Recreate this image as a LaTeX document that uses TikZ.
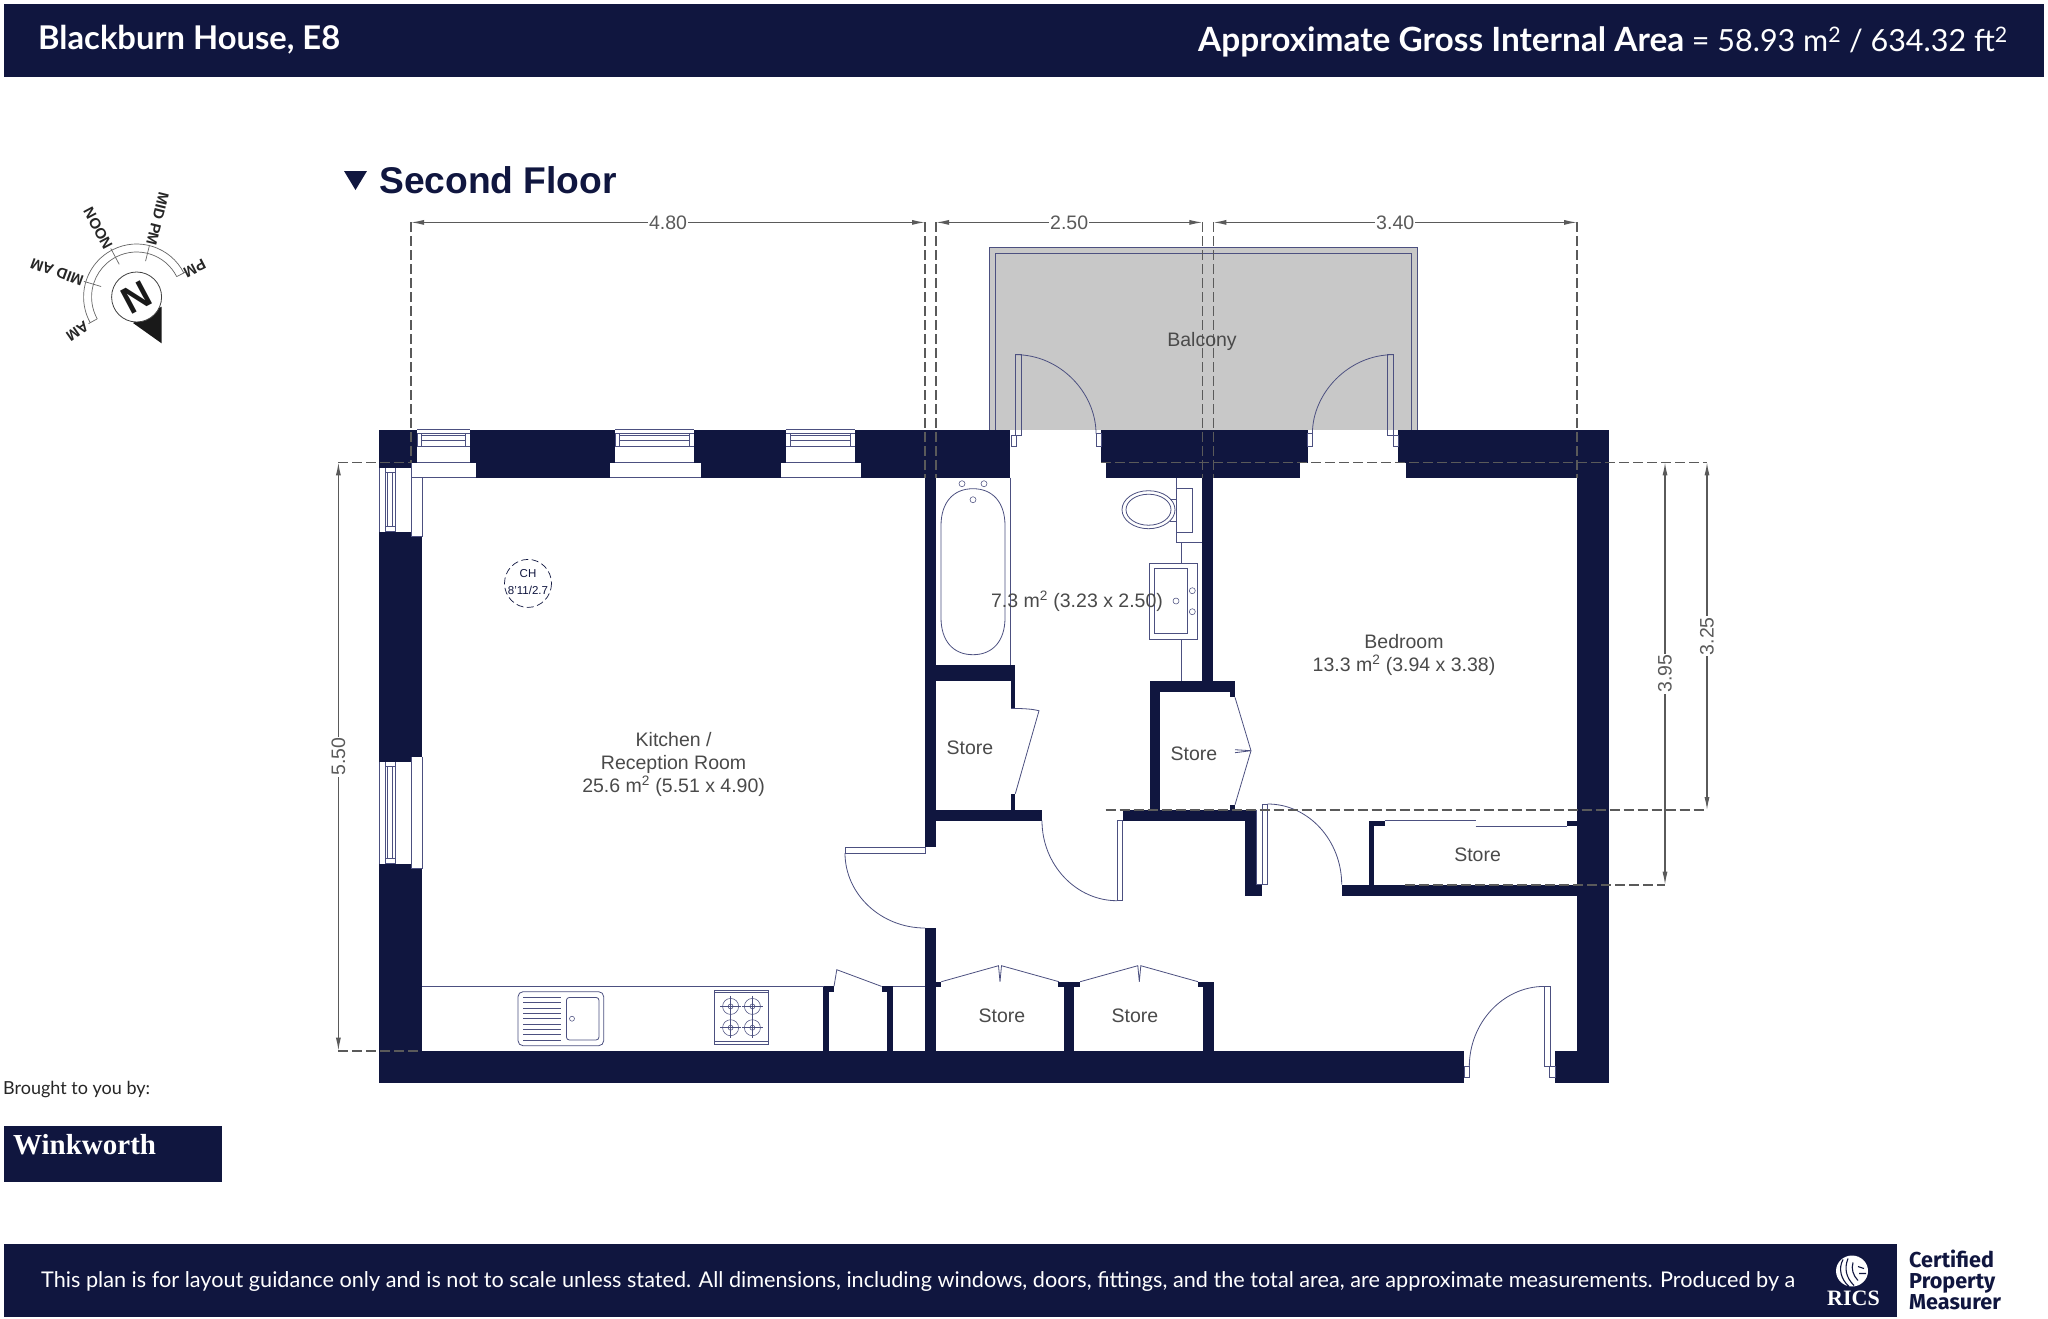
\documentclass[tikz,border=0pt]{standalone}
\usepackage{fontspec}
\setmainfont{Liberation Sans}
\newfontfamily\bandfont{Lato}
\newfontfamily\certfont{Fira Sans}
\newfontfamily\logofont{Liberation Serif}
\usetikzlibrary{arrows.meta,calc}
\definecolor{navyband}{HTML}{10163F}
\definecolor{fixline}{HTML}{4C5080}
\definecolor{dimgrey}{HTML}{5A5A5A}
\definecolor{labelgrey}{HTML}{4A4A4A}
\definecolor{balconygrey}{HTML}{C8C8C8}
\newcommand{\px}[1]{\fontsize{#1}{#1}\selectfont}
\tikzset{
  wall/.style={fill=navyband},
  fixture/.style={draw=fixline,line width=0.8pt},
  thinfix/.style={draw=fixline,line width=0.55pt},
  dimline/.style={draw=dimgrey,line width=1.1pt,{Latex[length=13pt,width=5pt]}-{Latex[length=13pt,width=5pt]}},
  dimdash/.style={draw=dimgrey,line width=1.6pt,dash pattern=on 10pt off 4pt},
  dimlabel/.style={text=dimgrey,font=\px{19.5},fill=white,inner xsep=1pt,inner ysep=0pt},
  roomlabel/.style={text=labelgrey,font=\fontsize{19.5}{23}\selectfont,align=center,inner sep=0pt},
  sunlabel/.style={text=black!85,font=\bfseries\px{15},inner sep=0pt},
  bandtext/.style={text=white,inner sep=0pt,anchor=west}
}
\begin{document}
\begin{tikzpicture}[x=1pt,y=-1pt]
\path[use as bounding box,fill=white] (0,0) rectangle (2048,1318);

\fill[navyband] (4,4) rectangle (2044,77);
\fill[navyband] (4,1244) rectangle (1897,1317);
\fill[navyband] (4,1126) rectangle (222,1182);

\node[bandtext,font=\bandfont\bfseries\px{32.7}] (planname) at (38,39.5) {Blackburn House, E8};
\node[bandtext,anchor=east,font=\bandfont\px{30.5}] (grossarea) at (2008,41.5) {{\bfseries\px{33.4}Approximate Gross Internal Area} = 58.93 m\textsuperscript{2} / 634.32 ft\textsuperscript{2}};
\node[bandtext,font=\bandfont\px{21.66}] (disclaimer) at (41,1281) {This plan is for layout guidance only and is not to scale unless stated. All dimensions, including windows, doors, fittings, and the total area, are approximate measurements. Produced by a};
\node[anchor=west,inner sep=0pt,font=\bandfont\px{18},text=black!85] (broughtby) at (3,1089) {Brought to you by:};
\node[bandtext,font=\logofont\bfseries\px{29}] (agent) at (13,1144.5) {Winkworth};

\node[anchor=west,inner sep=0pt,text=navyband,font=\bfseries\px{37.2}] (floorname) at (379,180) {Second Floor};
\fill[navyband] (344,171) -- (367,171) -- (355.5,190) -- cycle;

\begin{scope}[yshift=-0.7pt]
% balcony
\fill[balconygrey] (989,247) rectangle (1417,429);
\draw[fixture] (989,429) |- (1417,247) -- (1417,429);
\draw[fixture] (995,429) |- (1411.5,253) -- (1411.5,429);

% windows
\foreach \xa/\xb/\xc/\xd in {417/470/411/475.5,615/694/609.5/700.5,785.5/855/780.5/860.5}{
  \draw[thinfix] (\xa,429) -- (\xb,429) (\xa,462) -- (\xb,462) (\xc,477) -- (\xd,477);
  \draw[thinfix] (\xa,433) rectangle (\xb,446);
  \draw[thinfix] (\xa+4.5,435) -- (\xb-4.5,435) (\xa+4.5,440) -- (\xb-4.5,440);
  \draw[thinfix] (\xa+4.5,433) -- (\xa+4.5,446) (\xb-4.5,433) -- (\xb-4.5,446);
}
\foreach \ya/\yb/\yc/\yd in {467/531/477/536,761/863/756/868}{
  \draw[thinfix] (379.5,\ya) -- (379.5,\yb) (411,\ya) -- (411,\yb) (422,\yc) -- (422,\yd);
  \draw[thinfix] (385,\ya) rectangle (395,\yb);
  \draw[thinfix] (387.5,\ya+5) -- (387.5,\yb-5) (392.5,\ya+5) -- (392.5,\yb-5);
  \draw[thinfix] (385,\ya+5) -- (395,\ya+5) (385,\yb-5) -- (395,\yb-5);
  \draw[thinfix] (411,\yc) -- (411,\yd) -- (422,\yd);
}
\draw[thinfix] (411,467) -- (411,462) (422,477) -- (475.5,477);

% walls
\foreach \xa/\ya/\xb/\yb in {
  379/429/417/462,379/462/411/467,470/429/615/462,475.5/462/609.5/477,
  694/429/785.5/462,700.5/462/780.5/477,855/429/1010/462,860.5/462/1010/477,
  1101.4/429/1307.7/462,1106/462/1299.5/477,1398/429/1609/462,1406/462/1609/477,
  1577/429/1609/1082,379/531/411/761,379/863/411/1082,411/536/422/756,411/868/422/1050,
  379/1050/1464/1082,1555/1050/1609/1082,
  925/477/936/846.7,936/664/1015.3/680.7,1010.7/680.7/1015.3/707.7,
  1010.7/793/1015.3/809,936/809/1042/820,1202.4/477/1213.4/680.7,
  1149.5/680.7/1235/691.7,1149.5/691.7/1160/809,1229.6/691.7/1235/696.7,
  1229.6/804/1235/809,1122.5/809/1256.7/820,1245.3/820/1256.7/895,
  1256.7/884/1261.7/895,1341.7/884/1577/895,1368.7/820/1374.3/884,
  1368.7/820/1385/825.7,1566.7/820/1577/825.7,925/927.3/936/1050,
  823/991.7/829.3/1050,823/985.7/834/991.7,887.3/991.7/893/1050,
  881.6/985.7/893/991.7,936/981/941.3/986,1064/986/1074.4/1050,
  1058.4/981/1080.2/986,1197.5/981/1213.5/986,1202.5/986/1213.5/1050}{
  \fill[wall] (\xa,\ya) rectangle (\xb,\yb);
}

% doors
\draw[fixture] (1015.8,435) -- (1015.8,354) -- (1021.5,354) -- (1021.5,435) -- cycle;
\draw[fixture] (1011,435) rectangle (1016,446) (1096,433) rectangle (1101.4,446);
\draw[fixture] (1015.8,354) .. controls (1060,354) and (1096,392) .. (1096,433);
\draw[fixture] (1387.5,435) -- (1387.5,354) -- (1393,354) -- (1393,435) -- cycle;
\draw[fixture] (1393,435) rectangle (1398,446) (1307.7,433) rectangle (1312.4,446);
\draw[fixture] (1393,354) .. controls (1349,354) and (1312.4,392) .. (1312.4,433);
\draw[fixture] (845,846.7) rectangle (925,852.3);
\draw[fixture] (845,852.3) .. controls (845,893.5) and (881,927.3) .. (925,927.3);
\draw[fixture] (1117,820) rectangle (1122.5,900);
\draw[fixture] (1042,820) .. controls (1042,864) and (1076,900) .. (1117,900);
\draw[fixture] (1256.7,809) -- (1256.7,884) -- (1267.7,884) -- (1267.7,803.3) -- (1262,803.3) -- (1262,884);
\draw[fixture] (1267.7,803.3) .. controls (1308.4,803.3) and (1341.7,839.6) .. (1341.7,884);
\draw[fixture] (1544.3,985.7) rectangle (1550,1066) (1549.5,1066) rectangle (1555,1076.7) (1464,1066) rectangle (1469.3,1076.7);
\draw[fixture] (1544.3,985.7) .. controls (1503,985.7) and (1469.3,1022) .. (1469.3,1066);
\draw[fixture] (1011,707.7) .. controls (1025,707.7) and (1033,708.5) .. (1039,710) -- (1015.3,793);
\draw[fixture] (1235,696.7) -- (1251,750) -- (1235,804);
\draw[fixture] (1235,749) -- (1251,750) -- (1235,752);
\draw[fixture] (1385,820) -- (1475.7,820) (1475.7,825.7) -- (1566.7,825.7);
\draw[fixture] (834,985.7) -- (836.8,969) -- (881.6,985.7);
\foreach \xa/\xb/\xc in {941.3/1000/1059,1080.2/1139.3/1198}{
  \draw[fixture] (\xa,981) -- (\xb-1.5,965) -- (\xb,981) -- (\xb+1.5,965) -- (\xc,981);
}

% bathroom
\draw[fixture] (1010,477) -- (1010,664);
\draw[fixture] (973,488) .. controls (993,488) and (1005,502) .. (1005,525) -- (1005,617)
  .. controls (1005,640) and (993,654) .. (973,654) .. controls (953,654) and (941,640) .. (941,617)
  -- (941,525) .. controls (941,502) and (953,488) .. (973,488) -- cycle;
\foreach \xa/\ya in {962/483,984/483,973/499,1192.3/590,1192.3/611,1176/600.3}{
  \draw[thinfix] (\xa,\ya) circle[radius=3];
}
\draw[fixture] (1176.6,477) -- (1176.6,541.7) -- (1202.4,541.7);
\draw[fixture] (1176.6,488) rectangle (1192.8,531.7);
\draw[fixture] (1148.5,509) ellipse[x radius=26.5,y radius=19];
\draw[fixture] (1148.5,509) ellipse[x radius=22.5,y radius=15.5];
\draw[fixture] (1170,499) -- (1176.6,499) -- (1176.6,521) -- (1170,521);
\draw[fixture] (1149,563) rectangle (1197.6,638.3) (1154.5,568) rectangle (1187,632.7);
\draw[fixture] (1181.3,541.7) -- (1181.3,563) (1181.3,638.3) -- (1181.3,680.7);

% kitchen fittings
\draw[fixture] (422,985.7) -- (823.6,985.7) (893,985.7) -- (925,985.7);
\draw[fixture,rounded corners=5pt] (518,991) rectangle (603.7,1045);
\draw[fixture,rounded corners=3pt] (566.4,996.7) rectangle (599,1039.3);
\foreach \k in {0,...,8}{
  \draw[thinfix] (523.4,996.7+5.33*\k) -- (561,996.7+5.33*\k);
}
\draw[thinfix] (572,1018) circle[radius=2.5];
\draw[thinfix] (714.5,989.3) rectangle (768,1043.3);
\draw[thinfix] (714.5,992) -- (768,992) (714.5,1040.7) -- (768,1040.7);
\foreach \xa in {730.6,752.4}{
  \foreach \ya in {1005.7,1027}{
    \draw[thinfix] (\xa,\ya) circle[radius=8] (\xa,\ya) circle[radius=2.5];
    \draw[thinfix] (\xa-10.5,\ya) -- (\xa+10.5,\ya) (\xa,\ya-10.5) -- (\xa,\ya+10.5);
  }
}
\draw[draw=navyband,line width=0.7pt,dash pattern=on 7pt off 3.5pt] (528,582.7) ellipse[x radius=23.5,y radius=24];
\node[inner sep=0pt,text=navyband,font=\px{11.5}] (chmark) at (528,573) {CH};
\node[inner sep=0pt,text=navyband,font=\px{11.5}] (chvalue) at (528,589.5) {8'11/2.7};

% dimensions
\foreach \xa/\yb in {411/462,925/477,936/477,1202.4/477,1213.4/477,1577/477}{
  \draw[dimdash] (\xa,221.7) -- (\xa,\yb);
}
\draw[dimdash] (338.4,461.7) -- (411,461.7);
\draw[dimdash] (338.4,1050) -- (422,1050);
\draw[dimdash] (1101,461.7) -- (1707,461.7);
\draw[dimdash] (1105.6,809.3) -- (1707,809.3);
\draw[dimdash] (1405,884) -- (1665,884);
\draw[dimline] (411,221.7) -- node[dimlabel] (dimkitchen) {4.80} (925,221.7);
\draw[dimline] (936,221.7) -- node[dimlabel] (dimbath) {2.50} (1202.4,221.7);
\draw[dimline] (1213.4,221.7) -- node[dimlabel] (dimbed) {3.40} (1577,221.7);
\draw[dimline] (338.4,461.7) -- node[dimlabel,rotate=90] (dimdepth) {5.50} (338.4,1050);
\draw[dimline] (1707,461.7) -- node[dimlabel,rotate=90] (dimbedshort) {3.25} (1707,809.3);
\draw[dimline] (1665,461.7) -- node[dimlabel,rotate=90] (dimbedlong) {3.95} (1665,884);

% rooms
\node[roomlabel] (kitchen) at (673.6,764) {Kitchen /\\Reception Room\\25.6 m\textsuperscript{2} (5.51 x 4.90)};
\node[roomlabel] (balcony) at (1202,340.5) {Balcony};
\node[roomlabel] (bathroom) at (1077,600.5) {7.3 m\textsuperscript{2} (3.23 x 2.50)};
\node[roomlabel] (bedroom) at (1404,654.5) {Bedroom\\13.3 m\textsuperscript{2} (3.94 x 3.38)};
\foreach \xa/\ya/\nm in {970/747.3/storea,1194/752.7/storeb,1002/1015.5/storec,1135/1015.5/stored,1477.6/854.5/storee}{
  \node[roomlabel] (\nm) at (\xa,\ya) {Store};
}
\end{scope}

% compass
\coordinate (sun) at (136.6,297);
\fill[black!90] (133,323) -- (161.6,343.3) -- (161.6,306.7) -- cycle;
\draw[draw=black!75,fill=white,line width=0.8pt] (sun) ellipse[x radius=25,y radius=25];
\node[inner sep=0pt,rotate=208,font=\bfseries\px{38},text=black!90] (northmark) at (sun) {N};
\draw[draw=black!60,line width=0.7pt] (sun) ++(-27:53) arc[start angle=-27,end angle=-209,radius=53];
\draw[draw=black!60,line width=0.7pt] (sun) ++(-27:45) arc[start angle=-27,end angle=-209,radius=45];
\foreach \a/\ra/\rb in {-27/45/55,-209/45/55,-163.5/37/55,-118/37/55,-76/37/53}{
  \draw[draw=black!60,line width=0.7pt] ($(sun)+(\a:\ra)$) -- ($(sun)+(\a:\rb)$);
}
\node[sunlabel,rotate=215] (sunam) at (77.5,331.5) {AM};
\node[sunlabel,rotate=160] (sunmidam) at (57,272) {MID AM};
\node[sunlabel,rotate=118] (sunnoon) at (98,228.5) {NOON};
\node[sunlabel,rotate=-104] (sunmidpm) at (157.6,219) {MID PM};
\node[sunlabel,rotate=-153] (sunpm) at (194.7,268.3) {PM};

% logo
\fill[white] (1852,1271) ellipse[x radius=16,y radius=15.5];
\draw[navyband,line width=1.1pt] (1843,1259.5) .. controls (1838,1268.5) and (1841,1279.5) .. (1849,1286.5);
\draw[navyband,line width=1.1pt] (1848,1258.5) .. controls (1844,1268.5) and (1846,1277.5) .. (1854,1285.5);
\draw[navyband,line width=1.1pt] (1853,1262.5) .. controls (1851,1268.5) and (1853,1275.5) .. (1858,1280.5);
\draw[navyband,line width=1.1pt] (1858,1266.5) -- (1864,1268.5) (1859,1273.5) -- (1866,1273.5);
\node[inner sep=0pt,text=white,font=\logofont\bfseries\px{22}] (logotext) at (1853.5,1298) {RICS};
\node[anchor=west,inner sep=0pt,text=navyband,font=\certfont\bfseries\fontsize{21.6}{21}\selectfont,align=left] (certified) at (1909,1280) {Certified\\Property\\Measurer};
\end{tikzpicture}
\end{document}
